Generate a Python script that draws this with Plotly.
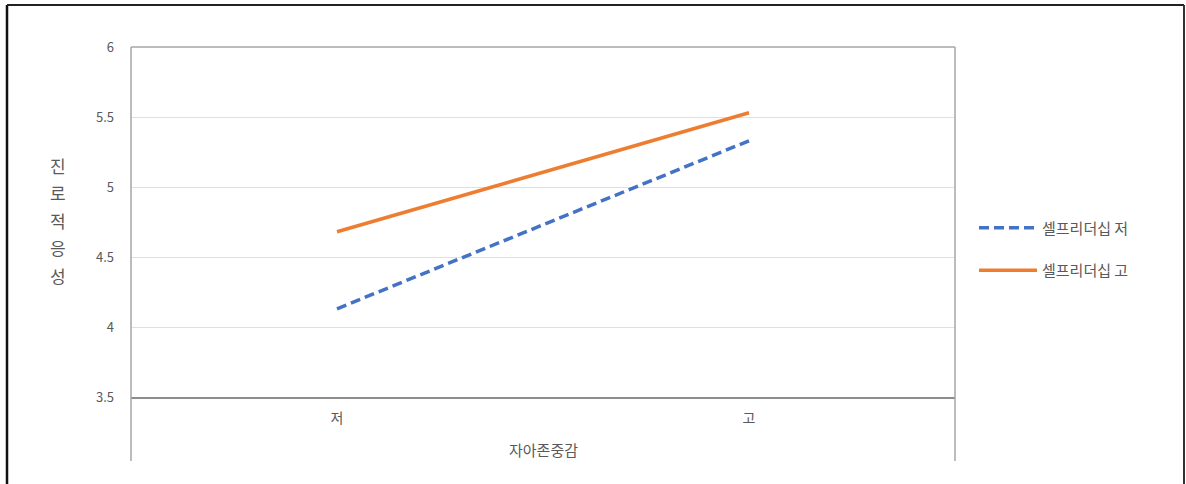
import plotly.graph_objects as go

categories = ["저", "고"]
series_names = ["셀프리더십 저", "셀프리더십 고"]
low_values = [4.13, 5.33]
high_values = [4.68, 5.53]
y_ticks = [3.5, 4, 4.5, 5, 5.5, 6]
y_title_chars = ["진", "로", "적", "응", "성"]
x_title = "자아존중감"

FONT = "Noto Sans CJK KR, Malgun Gothic, sans-serif"
GRAY_TXT = "#595959"

W, H = 1186, 484
L, R, T, B = 131, 955, 47, 397  # plot area pixel edges


def px_x(px):
    return (px - L) / (R - L)


def px_y(py):
    return (B - py) / (B - T)


fig = go.Figure()
fig.add_trace(go.Scatter(
    x=categories, y=low_values, mode="lines", name=series_names[0],
    line=dict(color="#4472C4", width=3.5, dash="10px,5px"),
    legendgroup="a",
))
fig.add_trace(go.Scatter(
    x=categories, y=high_values, mode="lines", name=series_names[1],
    line=dict(color="#ED7D31", width=3.5),
    legendgroup="b",
))

shapes = []
# plot-area side borders extending below the axis
for xp in (0, 1):
    shapes.append(dict(type="line", xref="paper", yref="paper",
                       x0=xp, x1=xp, y0=px_y(461), y1=1,
                       line=dict(color="#A6A6A6", width=1.5)))
# top border
shapes.append(dict(type="line", xref="paper", yref="paper",
                   x0=0, x1=1, y0=1, y1=1,
                   line=dict(color="#A6A6A6", width=1.5)))
# outer frame of the chart object (left, top, right)
shapes.append(dict(type="line", xref="paper", yref="paper",
                   x0=px_x(7), x1=px_x(7), y0=px_y(490), y1=px_y(5),
                   line=dict(color="#111111", width=2.5)))
shapes.append(dict(type="line", xref="paper", yref="paper",
                   x0=px_x(7), x1=px_x(1184), y0=px_y(5), y1=px_y(5),
                   line=dict(color="#222222", width=2)))
shapes.append(dict(type="line", xref="paper", yref="paper",
                   x0=px_x(1184), x1=px_x(1184), y0=px_y(490), y1=px_y(5),
                   line=dict(color="#333333", width=2)))

annotations = []
for i, ch in enumerate(y_title_chars):
    annotations.append(dict(
        text=ch, xref="paper", yref="paper",
        x=px_x(58), y=px_y(165 + i * 27.5),
        showarrow=False, xanchor="center", yanchor="middle",
        font=dict(family=FONT, size=17, color=GRAY_TXT),
    ))
annotations.append(dict(
    text=x_title, xref="paper", yref="paper",
    x=0.5, y=px_y(449), showarrow=False,
    xanchor="center", yanchor="middle",
    font=dict(family=FONT, size=15, color=GRAY_TXT),
))

fig.update_layout(
    width=W, height=H,
    margin=dict(l=L, r=W - R, t=T, b=H - B, autoexpand=False),
    paper_bgcolor="white", plot_bgcolor="white",
    font=dict(family=FONT, color=GRAY_TXT),
    showlegend=True,
    legend=dict(
        x=px_x(974), y=px_y(249), xanchor="left", yanchor="middle",
        font=dict(family=FONT, size=15, color=GRAY_TXT),
        traceorder="grouped", tracegroupgap=20,
        itemwidth=58, bgcolor="rgba(0,0,0,0)",
    ),
    xaxis=dict(
        type="category", range=[-0.5, 1.5],
        showgrid=False, zeroline=False,
        showline=True, linecolor="#8C8C8C", linewidth=1.5,
        ticks="", ticklabelstandoff=7,
        tickfont=dict(family=FONT, size=14, color=GRAY_TXT),
        fixedrange=True,
    ),
    yaxis=dict(
        range=[3.5, 6], tickvals=y_ticks,
        ticktext=[f"{v:g}" for v in y_ticks],
        showgrid=True, gridcolor="#E0E0E0", gridwidth=1,
        zeroline=False, showline=False,
        ticks="", ticklabelstandoff=16,
        tickfont=dict(family=FONT, size=13, color=GRAY_TXT),
        fixedrange=True,
    ),
    shapes=shapes,
    annotations=annotations,
)

fig.write_html("out.html")
